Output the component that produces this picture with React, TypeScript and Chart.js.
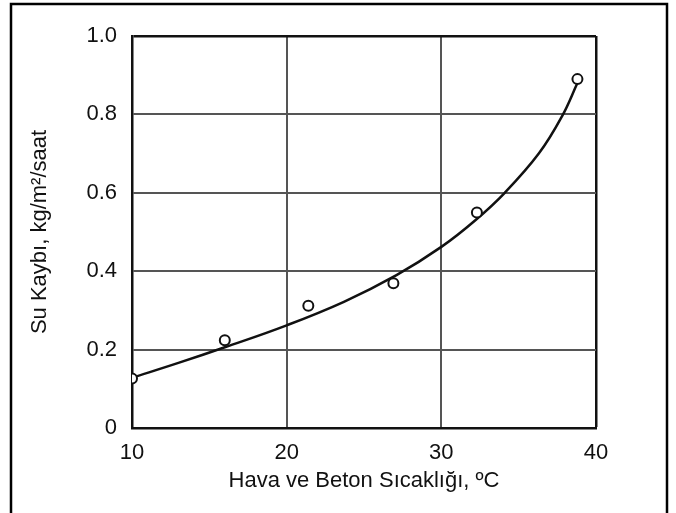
import React, { useEffect, useRef } from "react";
import { Chart, registerables } from "chart.js";

Chart.register(...registerables);

// Measured data points (open circles)
const pointX = [10, 16, 21.4, 26.9, 32.3, 38.8];
const pointY = [0.126, 0.224, 0.312, 0.369, 0.55, 0.89];

// Fitted curve
const curveX = [10, 13, 16, 20, 23.7, 27.1, 30, 32.2, 34.1, 36.3, 37.8, 38.8];
const curveY = [0.128, 0.166, 0.206, 0.262, 0.322, 0.39, 0.462, 0.53, 0.6, 0.7, 0.795, 0.88];

const xTicks = [10, 20, 30, 40];
const yTickLabels = ["0", "0.2", "0.4", "0.6", "0.8", "1.0"];

const xTitle = "Hava ve Beton Sıcaklığı, ºC";
const yTitle = "Su Kaybı, kg/m²/saat";

const FONT = "'Liberation Sans', Arial, sans-serif";

const framePlugin = {
  id: "outerFrame",
  afterDraw(chart: any) {
    const ctx = chart.ctx;
    ctx.save();
    ctx.strokeStyle = "#000";
    ctx.lineWidth = 2.5;
    ctx.strokeRect(11, 4, 656, 530);
    ctx.restore();
  },
};

export default function App() {
  const ref = useRef<HTMLCanvasElement | null>(null);

  useEffect(() => {
    document.body.style.margin = "0";
    if (!ref.current) return;
    const chart = new Chart(ref.current, {
      type: "scatter",
      data: {
        datasets: [
          {
            label: "Ölçüm",
            data: pointX.map((x, i) => ({ x, y: pointY[i] })),
            showLine: false,
            pointRadius: 5,
            pointBorderWidth: 2,
            pointBorderColor: "#111",
            pointBackgroundColor: "#fff",
          },
          {
            label: "Eğri",
            data: curveX.map((x, i) => ({ x, y: curveY[i] })),
            showLine: true,
            pointRadius: 0,
            borderColor: "#111",
            borderWidth: 2.5,
            tension: 0.4,
            fill: false,
          },
        ],
      },
      options: {
        responsive: false,
        animation: false,
        layout: { padding: { left: 0, top: 36, right: 80, bottom: 0 } },
        plugins: { legend: { display: false }, tooltip: { enabled: false } },
        scales: {
          x: {
            type: "linear",
            min: 10,
            max: 40,
            afterBuildTicks: (s: any) => {
              s.ticks = xTicks.map((v) => ({ value: v }));
            },
            afterFit: (s: any) => {
              s.height = 85;
            },
            ticks: {
              font: { family: FONT, size: 22 },
              color: "#111",
              padding: 12,
              callback: (v: any) => String(v),
            },
            grid: {
              drawTicks: false,
              color: (c: any) => (c.tick && c.tick.value === 40 ? "#111" : "#555"),
              lineWidth: (c: any) => (c.tick && c.tick.value === 40 ? 2.5 : 2),
            },
            border: { color: "#111", width: 2.5 },
            title: {
              display: true,
              text: xTitle,
              font: { family: FONT, size: 22 },
              color: "#111",
              padding: { top: 0, bottom: 19 },
            },
          },
          y: {
            type: "linear",
            min: 0,
            max: 1.0,
            afterBuildTicks: (s: any) => {
              s.ticks = yTickLabels.map((_, i) => ({ value: i * 0.2 }));
            },
            afterFit: (s: any) => {
              s.width = 132;
            },
            ticks: {
              font: { family: FONT, size: 22 },
              color: "#111",
              padding: 15,
              callback: (_v: any, i: number) => yTickLabels[i],
            },
            grid: {
              drawTicks: false,
              color: (c: any) => (c.index === yTickLabels.length - 1 ? "#111" : "#555"),
              lineWidth: (c: any) => (c.index === yTickLabels.length - 1 ? 2.5 : 2),
            },
            border: { color: "#111", width: 2.5 },
            title: {
              display: true,
              text: yTitle,
              font: { family: FONT, size: 22 },
              color: "#111",
              padding: { top: 27, bottom: 0 },
            },
          },
        },
      },
      plugins: [framePlugin],
    } as any);
    return () => chart.destroy();
  }, []);

  return (
    <div style={{ width: 676, height: 513, background: "#fff" }}>
      <canvas ref={ref} width={676} height={513} style={{ display: "block" }} />
    </div>
  );
}
